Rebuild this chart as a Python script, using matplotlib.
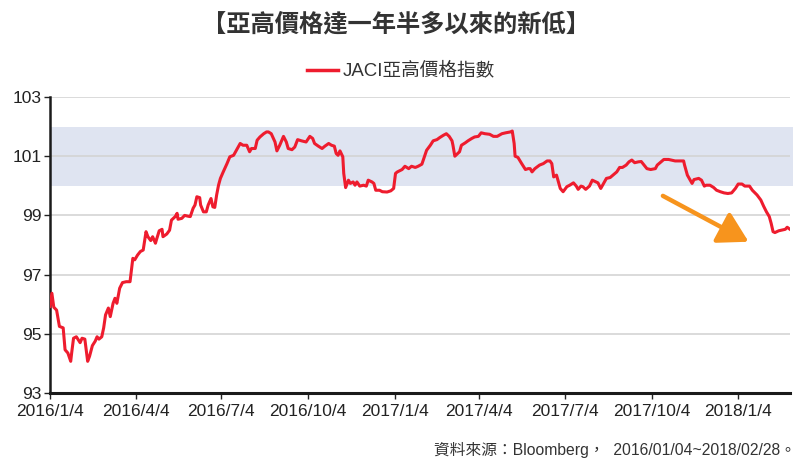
import matplotlib
matplotlib.use("Agg")
import matplotlib.pyplot as plt
import matplotlib.dates as mdates
import numpy as np
import pandas as pd

plt.rcParams['font.family'] = ['Liberation Sans', 'Noto Sans CJK TC', 'DejaVu Sans']

title = "【亞高價格達一年半多以來的新低】"
series_name = "JACI亞高價格指數"
source_text = "資料來源：Bloomberg，  2016/01/04~2018/02/28。"

start_date = "2016-01-04"
end_date = "2018-02-28"

day_offsets = [
    0, 2, 4, 7, 10, 14, 16, 19, 22, 23, 25, 28, 32, 34, 37, 40, 42, 45, 48, 50,
    52, 55, 57, 59, 62, 64, 67, 69, 71, 74, 77, 81, 85, 88, 90, 93, 96, 99, 102, 104,
    107, 109, 112, 113, 116, 119, 120, 124, 127, 129, 133, 135, 136, 140, 143, 147, 149, 152, 154, 156,
    159, 160, 163, 166, 168, 171, 173, 175, 177, 179, 181, 184, 188, 191, 195, 198, 202, 205, 209, 212,
    214, 218, 220, 223, 227, 230,
    232, 235, 239, 241, 244, 248, 251, 253, 257, 260, 263, 267, 272, 276, 279, 281, 285, 289, 292, 296,
    299, 302, 304, 306, 308, 311, 312, 314, 317, 319, 322, 324, 326, 329, 333, 336, 338, 342, 344, 346,
    350, 353, 358, 362, 365, 367, 369, 374, 377, 381, 384, 388, 391, 395, 397, 400, 404, 407, 411, 414,
    418, 421, 424, 427, 428, 430, 433, 435, 437, 441, 444, 448, 451, 455, 458, 462, 467, 471, 475, 480,
    484, 489, 491, 493, 494, 497, 501, 505, 508,
    510, 512, 515, 520, 524, 528, 531, 533, 535, 538, 540, 542, 545, 549, 552, 556, 559, 561, 564, 566,
    569, 573, 576, 580, 582, 585, 588, 591, 595, 598, 602, 605, 608, 612, 615, 618, 621, 625, 628, 631,
    634, 638, 643, 645, 649, 652, 657, 660, 664, 668, 673, 674, 677, 680, 682, 684, 689, 692, 695, 697,
    701, 705, 708, 712, 716, 720, 724, 728, 731, 735, 738, 743, 746, 751, 755, 758, 761, 764, 766, 768,
    770, 774, 777, 781, 783, 786,
]

jaci_values = [
    95.92, 96.37, 95.90, 95.80, 95.25, 95.20, 94.46, 94.35, 94.07, 94.35, 94.85, 94.90, 94.70, 94.85, 94.82, 94.07, 94.24, 94.60, 94.75, 94.90,
    94.82, 94.90, 95.20, 95.64, 95.87, 95.58, 96.03, 96.20, 96.03, 96.54, 96.73, 96.76, 96.76, 97.55, 97.50, 97.66, 97.78, 97.83, 98.45, 98.28,
    98.15, 98.28, 98.06, 98.17, 98.48, 98.53, 98.28, 98.37, 98.50, 98.84, 98.96, 99.07, 98.87, 98.90, 99.00, 98.97, 98.96, 99.24, 99.35, 99.63,
    99.60, 99.35, 99.12, 99.12, 99.35, 99.57, 99.29, 99.27, 99.69, 100.02, 100.25, 100.47, 100.75, 100.98, 101.03, 101.20, 101.43, 101.37, 101.37, 101.15,
    101.26, 101.26, 101.54, 101.65, 101.76, 101.82,
    101.82, 101.76, 101.48, 101.18, 101.37, 101.67, 101.48, 101.26, 101.22, 101.31, 101.56, 101.52, 101.48, 101.67, 101.60, 101.43, 101.34, 101.26, 101.34, 101.43,
    101.37, 101.34, 101.09, 101.03, 101.18, 100.98, 100.42, 99.94, 100.19, 100.08, 100.13, 100.02, 100.13, 99.99, 100.02, 99.99, 100.19, 100.13, 100.08, 99.85,
    99.85, 99.80, 99.79, 99.83, 99.91, 100.42, 100.47, 100.55, 100.66, 100.58, 100.66, 100.62, 100.66, 100.73, 100.92, 101.20, 101.37, 101.52, 101.56, 101.63,
    101.71, 101.76, 101.67, 101.52, 101.37, 101.00, 101.09, 101.15, 101.37, 101.45, 101.52, 101.60, 101.65, 101.67, 101.79, 101.76, 101.74, 101.67, 101.67, 101.76,
    101.79, 101.82, 101.85, 101.43, 101.00, 100.96, 100.75, 100.55, 100.58,
    100.58, 100.47, 100.58, 100.70, 100.75, 100.84, 100.84, 100.75, 100.30, 100.36, 100.13, 99.91, 99.80, 99.97, 100.02, 100.10, 99.99, 99.88, 99.99, 99.97,
    99.88, 99.99, 100.19, 100.13, 100.10, 99.91, 100.08, 100.25, 100.28, 100.36, 100.47, 100.62, 100.62, 100.70, 100.81, 100.87, 100.78, 100.81, 100.82, 100.70,
    100.58, 100.55, 100.58, 100.70, 100.81, 100.89, 100.89, 100.87, 100.84, 100.84, 100.84, 100.70, 100.36, 100.19, 100.08, 100.21, 100.25, 100.19, 99.99, 100.02,
    100.02, 99.94, 99.85, 99.80, 99.76, 99.74, 99.76, 99.91, 100.06, 100.06, 99.99, 99.99, 99.85, 99.69, 99.52, 99.31, 99.12, 98.96, 98.73, 98.45,
    98.42, 98.48, 98.50, 98.53, 98.60, 98.53,
]

band_low, band_high = 100, 102
y_ticks = [93, 95, 97, 99, 101, 103]
x_tick_dates = ["2016-01-04", "2016-04-04", "2016-07-04", "2016-10-04", "2017-01-04",
                "2017-04-04", "2017-07-04", "2017-10-04", "2018-01-04"]
x_tick_labels = ["2016/1/4", "2016/4/4", "2016/7/4", "2016/10/4", "2017/1/4",
                 "2017/4/4", "2017/7/4", "2017/10/4", "2018/1/4"]

# trend arrow (date, value) of tail and head
arrow_tail = ("2017-10-16", 99.66)
arrow_head = ("2018-01-15", 98.11)

dates = pd.Timestamp(start_date) + pd.to_timedelta(day_offsets, unit="D")

fig = plt.figure(figsize=(8.05, 4.59), dpi=100)
ax = fig.add_axes([50/805, 1-393/459, 740/805, 296/459])

ax.axhspan(band_low, band_high, xmax=1.004, color="#DFE4F1", zorder=0, lw=0, clip_on=False)
for yt in y_ticks:
    ax.axhline(yt, color="#D4D4D4", lw=1.2, zorder=1)

line, = ax.plot(dates, jaci_values, color="#EE1C2E", lw=2.2, zorder=3, solid_joinstyle="round")

ax.set_xlim(pd.Timestamp(start_date), pd.Timestamp(end_date))
ax.set_ylim(93, 103)
ax.set_yticks(y_ticks)
ax.set_xticks(pd.to_datetime(x_tick_dates))
ax.set_xticklabels(x_tick_labels)

for s in ["top", "right"]:
    ax.spines[s].set_visible(False)
ax.spines["left"].set_linewidth(1.8)
ax.spines["left"].set_color("#1a1a1a")
ax.spines["bottom"].set_linewidth(2.2)
ax.spines["bottom"].set_color("#1a1a1a")
ax.tick_params(axis="both", labelsize=12.5, colors="#222222", length=4, width=1.0, pad=2)
ax.tick_params(axis="x", pad=4)
ax.set_axisbelow(True)

ax.annotate("", xy=(pd.Timestamp(arrow_head[0]), arrow_head[1]),
            xytext=(pd.Timestamp(arrow_tail[0]), arrow_tail[1]),
            arrowprops=dict(arrowstyle="-|>,head_length=0.9,head_width=0.52",
                            mutation_scale=20,
                            color="#F7941D", lw=3.2, shrinkA=0, shrinkB=0),
            zorder=4)

fig.text(396/805, 1-24/459, title, ha="center", va="center", fontsize=17.5,
         fontweight="bold", color="#333333",
         family=["Noto Sans CJK TC", "DejaVu Sans"])

# legend
fig.lines.append(plt.Line2D([307/805, 338/805], [1-70/459, 1-70/459],
                            transform=fig.transFigure, color="#EE1C2E", lw=2.5))
fig.text(343/805, 1-70/459, series_name, ha="left", va="center", fontsize=13.4,
         color="#333333", family=["Liberation Sans", "Noto Sans CJK TC"])

fig.text(796/805, 1-450/459, source_text, ha="right", va="center", fontsize=11.3,
         color="#333333", family=["Liberation Sans", "Noto Sans CJK TC"])

fig.savefig("out.png", dpi=100)
